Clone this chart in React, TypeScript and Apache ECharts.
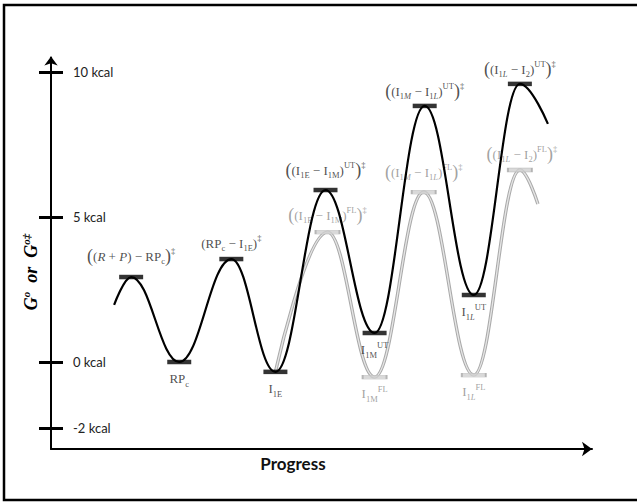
import React, { useEffect, useRef } from "react";
import * as echarts from "echarts";

// ---- data ----
// progress coordinate (arbitrary units) and free energy (kcal) of the UT path
const utProgress = [6.3, 8.0, 12.8, 18.0, 22.4, 27.4, 32.3, 37.3, 42.2, 46.8, 49.6];
const utEnergy = [1.97, 2.93, 0.0, 3.55, -0.34, 5.93, 1.0, 8.83, 2.31, 9.59, 8.21];
// FL path branches off at I1E
const flProgress = [22.4, 27.6, 32.3, 37.2, 42.2, 46.8, 48.6];
const flEnergy = [-0.34, 4.48, -0.52, 5.86, -0.45, 6.62, 5.45];

// labels of the stationary points (interior points of each path)
const utLabels = [
  "{bp|(}{n|(}{i|R}{n| + }{i|P}{n|) − RP}{sb|c}{bp|)}{sp|‡}",
  "{n|RP}{sb|c}",
  "{n|(RP}{sb|c}{n| − I}{sb|1E}{n|)}{sp|‡}",
  "{n|I}{sb|1E}",
  "{bp|(}{n|(I}{sb|1E}{n| − I}{sb|1M}{n|)}{sp|UT}{bp|)}{sp|‡}",
  "{n|I}{sb|1M}{sp|UT}",
  "{bp|(}{n|(I}{sb|1}{sbi|M}{n| − I}{sb|1}{sbi|L}{n|)}{sp|UT}{bp|)}{sp|‡}",
  "{n|I}{sb|1}{sbi|L}{sp|UT}",
  "{bp|(}{n|(I}{sb|1}{sbi|L}{n| − I}{sb|2}{n|)}{sp|UT}{bp|)}{sp|‡}",
];
const flLabels = [
  "{bp|(}{n|(I}{sb|1E}{n| − I}{sb|1M}{n|)}{sp|FL}{bp|)}{sp|‡}",
  "{n|I}{sb|1M}{sp|FL}",
  "{bp|(}{n|(I}{sb|1}{sbi|M}{n| − I}{sb|1}{sbi|L}{n|)}{sp|FL}{bp|)}{sp|‡}",
  "{n|I}{sb|1}{sbi|L}{sp|FL}",
  "{bp|(}{n|(I}{sb|1}{sbi|L}{n| − I}{sb|2}{n|)}{sp|FL}{bp|)}{sp|‡}",
];

// y-axis ticks (the -2 tick is drawn where the reference places it)
const yTickValues = [-2.28, 0, 5, 10];
const yTickLabels = ["-2 kcal", "0 kcal", "5 kcal", "10 kcal"];

const axisName = "Progress";
const yName = "{g|G}{s|o}{g|  or  G}{s|o‡}";

// ---- styles ----
const SERIF = "Liberation Serif";
const SANS = "Lato";
const utLabelShift = [0, 0, 0, 0, 0, 0, 0, 0, 0];
const flLabelShift = [0, 0, 0, 0, 2];
const utPeakDistance = [9, 0, 4, 0, 8, 0, 3, 0, 3];
const flPeakDistance = [5, 0, 8, 0, 4];

function richFor(color: string) {
  const base = { color, textBorderWidth: 0, textBorderColor: "transparent", textShadowBlur: 0 };
  return {
    n: { ...base, fontFamily: SERIF, fontSize: 13, lineHeight: 19 },
    i: { ...base, fontFamily: SERIF, fontSize: 13, fontStyle: "italic", lineHeight: 19 },
    sb: { ...base, fontFamily: SERIF, fontSize: 8.5, verticalAlign: "bottom", lineHeight: 11.5 },
    sbi: { ...base, fontFamily: SERIF, fontSize: 8.5, fontStyle: "italic", verticalAlign: "bottom", lineHeight: 11.5 },
    sp: { ...base, fontFamily: SERIF, fontSize: 8.5, verticalAlign: "top", lineHeight: 10.5 },
    bp: { ...base, fontFamily: SERIF, fontSize: 18, lineHeight: 19 },
  };
}

function levels(
  xs: number[],
  ys: number[],
  labels: string[],
  shifts: number[],
  dists: number[],
  color: string
) {
  const out: any[] = [];
  for (let i = 1; i < xs.length - 1; i++) {
    const peak = ys[i] > ys[i - 1];
    out.push({
      value: [xs[i], ys[i]],
      label: {
        show: true,
        position: peak ? "top" : "bottom",
        distance: peak ? dists[i - 1] : 5,
        offset: [shifts[i - 1] || 0, 0],
        formatter: labels[i - 1],
        color,
        textBorderWidth: 0,
        textBorderColor: "transparent",
        rich: richFor(color),
      },
    });
  }
  return out;
}

export default function App() {
  const ref = useRef<HTMLDivElement>(null);
  useEffect(() => {
    if (!ref.current) return;
    const chart = echarts.init(ref.current, null, { renderer: "svg" });
    const utPath = utProgress.map((x, i) => [x, utEnergy[i]]);
    const flPath = flProgress.map((x, i) => [x, flEnergy[i]]);
    const tickLabelOf = (v: number) => {
      const k = yTickValues.findIndex((t) => Math.abs(t - v) < 1e-6);
      return k >= 0 ? yTickLabels[k] : "";
    };
    chart.setOption({
      animation: false,
      backgroundColor: "#fff",
      grid: { left: 51, right: 45, top: 57.5, bottom: 53 },
      xAxis: {
        type: "value",
        min: 0,
        max: 54,
        axisLine: {
          show: true,
          onZero: false,
          symbol: ["none", "arrow"],
          symbolSize: [11, 10],
          lineStyle: { color: "#000", width: 2 },
        },
        axisTick: { show: false },
        axisLabel: { show: false },
        splitLine: { show: false },
      },
      yAxis: [
        {
          type: "value",
          position: "left",
          min: -3,
          max: 10.5,
          axisLine: {
            show: true,
            onZero: false,
            symbol: ["none", "arrow"],
            symbolSize: [10, 9],
            symbolOffset: [0, 1],
            lineStyle: { color: "#000", width: 2 },
          },
          axisTick: {
            show: true,
            length: 12,
            customValues: yTickValues,
            lineStyle: { color: "#000", width: 3 },
          },
          axisLabel: {
            show: true,
            inside: true,
            margin: 22,
            customValues: yTickValues,
            formatter: (v: number) => tickLabelOf(v),
            fontFamily: SANS,
            fontSize: 13,
            color: "#222",
          },
          splitLine: { show: false },
        },
        {
          type: "value",
          position: "left",
          offset: 0,
          min: -3,
          max: 10.5,
          axisLine: { show: false, onZero: false },
          axisTick: {
            show: true,
            inside: true,
            length: 12,
            customValues: yTickValues,
            lineStyle: { color: "#000", width: 3 },
          },
          axisLabel: { show: false },
          splitLine: { show: false },
        },
      ],
      graphic: [
        {
          type: "rect",
          shape: { x: 4, y: 5, width: 700, height: 495 },
          style: { fill: "none", stroke: "#000", lineWidth: 2.5 },
          z: 100,
        },
        {
          type: "text",
          x: 293,
          y: 463,
          style: {
            text: axisName,
            fontFamily: SANS,
            fontWeight: "bold",
            fontSize: 17,
            fill: "#111",
            align: "center",
            verticalAlign: "middle",
          },
        },
        {
          type: "text",
          x: 31,
          y: 272,
          rotation: Math.PI / 2,
          style: {
            text: yName,
            align: "center",
            verticalAlign: "middle",
            rich: {
              g: { fontFamily: SERIF, fontSize: 18, fontWeight: "bold", fontStyle: "italic", fill: "#000", lineHeight: 22 },
              s: { fontFamily: SERIF, fontSize: 11, fontWeight: "bold", fontStyle: "italic", fill: "#000", verticalAlign: "top", lineHeight: 12 },
            },
          },
        },
      ],
      series: [
        {
          type: "line",
          data: flPath,
          smooth: 0.4,
          smoothMonotone: "x",
          symbol: "none",
          lineStyle: { color: "#aaaaaa", width: 3.4 },
          z: 1,
          silent: true,
        },
        {
          type: "line",
          data: flPath,
          smooth: 0.4,
          smoothMonotone: "x",
          symbol: "none",
          lineStyle: { color: "#e6e6e6", width: 1.3 },
          z: 1,
          silent: true,
        },
        {
          type: "scatter",
          data: levels(flProgress, flEnergy, flLabels, flLabelShift, flPeakDistance, "#8a8a8a"),
          symbol: "rect",
          symbolSize: [24, 4],
          itemStyle: { color: "#cfcfcf", borderColor: "#a8a8a8", borderWidth: 0.8 },
          z: 2,
          silent: true,
        },
        {
          type: "line",
          data: utPath,
          smooth: 0.4,
          smoothMonotone: "x",
          symbol: "none",
          lineStyle: { color: "#000", width: 2.2 },
          z: 3,
          silent: true,
        },
        {
          type: "scatter",
          data: levels(utProgress, utEnergy, utLabels, utLabelShift, utPeakDistance, "#222"),
          symbol: "rect",
          symbolSize: [24, 4.5],
          itemStyle: { color: "#000" },
          z: 4,
          silent: true,
        },
      ],
    });
    return () => chart.dispose();
  }, []);
  return (
    <div
      ref={ref}
      style={{ position: "fixed", left: 0, top: 0, width: 637, height: 502 }}
    />
  );
}
